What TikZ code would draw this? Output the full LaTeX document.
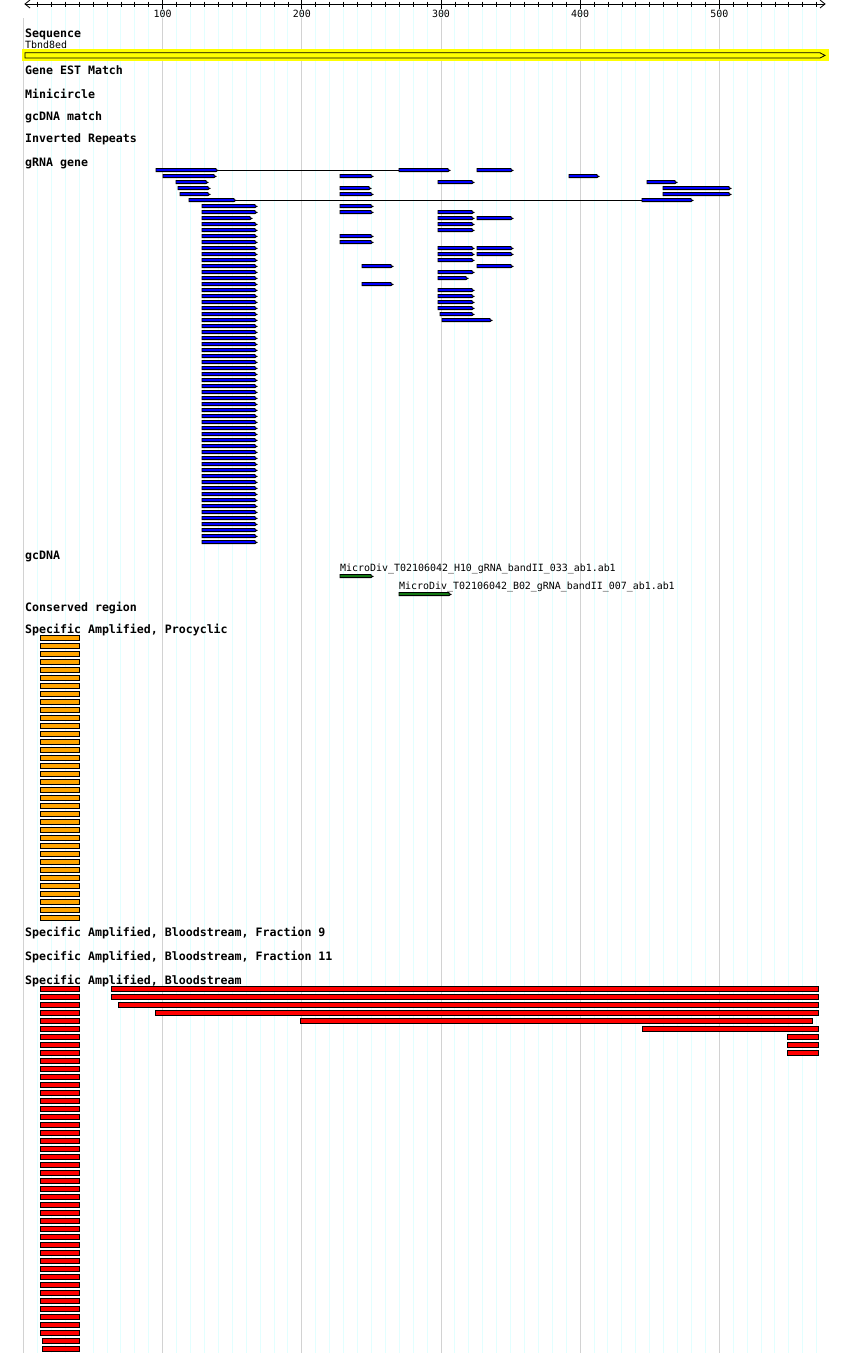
\documentclass[tikz,border=0pt]{standalone}
\usepackage{fontspec}
\setmonofont{DejaVu Sans Mono}
\usepackage{xcolor}
\usepackage{tikz}

\definecolor{gridcyan}{RGB}{226,255,255}
\definecolor{gridgray}{RGB}{210,210,210}
\definecolor{seqyellow}{RGB}{255,255,0}
\definecolor{grnablue}{RGB}{0,0,255}
\definecolor{gcgreen}{RGB}{20,120,20}
\definecolor{procorange}{RGB}{255,165,0}
\definecolor{bloodred}{RGB}{255,0,0}

% arrow bar: [style]{from}{to}{row centre}
\newcommand{\fwdbar}[4][grna]{\filldraw[#1] (#2,#4-1.6) -- (#3-2,#4-1.6) -- (#3-2,#4-0.4) -- (#3,#4+0.3) -- (#3-2,#4+1.6) -- (#2,#4+1.6) -- cycle;}
% plain bar: [style]{from}{to}{top}
\newcommand{\hitbar}[4][proc]{\filldraw[#1] (#2,#4+0.4) rectangle (#3,#4+5);}

\begin{document}
\begin{tikzpicture}[x=1pt,y=-1pt,
 tracklbl/.style={font=\ttfamily\bfseries\fontsize{11.6}{12}\selectfont,anchor=base west,inner sep=0pt},
 smalllbl/.style={font=\ttfamily\fontsize{9.95}{11}\selectfont,inner sep=0pt},
 gridminor/.style={draw=gridcyan,line width=1pt},
 gridmajor/.style={draw=gridgray,line width=1pt},
 grna/.style={draw=black,fill=grnablue,line width=0.8pt},
 gcd/.style={draw=black,fill=gcgreen,line width=0.8pt},
 proc/.style={draw=black,fill=procorange,line width=1pt},
 blood/.style={draw=black,fill=bloodred,line width=1pt}]
\useasboundingbox[fill=white] (0,0) rectangle (850,1353);

% grid
\foreach \k in {1,...,57} {\draw[gridminor] (23.55+13.915*\k,8) -- (23.55+13.915*\k,1353);}
\foreach \h in {0,...,5} {\draw[gridmajor] (23.55+139.15*\h,18) -- (23.55+139.15*\h,1353);}

% ruler
\draw[line width=0.8pt] (30,0) -- (25,4) -- (30,8);
\draw[line width=0.8pt] (820,0) -- (825,4) -- (820,8);
\draw[line width=0.8pt] (25,4) -- (825,4);
\foreach \k in {1,...,57} {\draw[line width=0.8pt] (23.55+13.915*\k,1.5) -- (23.55+13.915*\k,7);}
\foreach \h in {1,...,5} {
 \draw[line width=0.8pt] (23.55+139.15*\h,0) -- (23.55+139.15*\h,9);
 \node[smalllbl,anchor=base] (tick\h) at (23.55+139.15*\h,17.5) {\h00};
}

% sequence
\node[tracklbl] (seqlbl) at (25,37) {Sequence};
\node[smalllbl,anchor=base west] (seqname) at (25,48) {Tbnd8ed};
\fill[seqyellow] (22,49) rectangle (829,61);
\draw[line width=0.8pt] (25,52.8) -- (820,52.8) -- (825,55.4) -- (820,58) -- (25,58) -- cycle;

\node[tracklbl] (estlbl) at (25,74) {Gene EST Match};
\node[tracklbl] (minilbl) at (25,98) {Minicircle};
\node[tracklbl] (matchlbl) at (25,120) {gcDNA match};
\node[tracklbl] (irlbl) at (25,142) {Inverted Repeats};
\node[tracklbl] (grnalbl) at (25,166) {gRNA gene};

% gRNA gene
\draw[line width=0.8pt] (218,170) -- (399,170);
\draw[line width=0.8pt] (236,200) -- (642,200);
\foreach \r/\a/\b in {170/156/218,176/163/216,182/176/208,188/178/210,194/180/210,200/189/236,
 206/202/257,212/202/257,218/202/252}
 {\fwdbar{\a}{\b}{\r}}
\foreach \r in {224,230,...,542} {\fwdbar{202}{257}{\r}}
\foreach \r/\b in {176/373,188/371,194/373,206/373,212/373,236/373,242/373} {\fwdbar{340}{\b}{\r}}
\foreach \r in {266,284} {\fwdbar{362}{393}{\r}}
\foreach \r/\a/\b in {182/438/474,212/438/474,218/438/474,224/438/474,230/438/474,248/438/474,
 254/438/474,260/438/474,272/438/474,278/438/468,290/438/474,296/438/474,302/438/474,
 308/438/474,314/440/474,320/442/492}
 {\fwdbar{\a}{\b}{\r}}
\foreach \r in {170,218,248,254,266} {\fwdbar{477}{513}{\r}}
\foreach \r/\a/\b in {170/399/450,176/569/599,182/647/677,188/663/731,194/663/731,200/642/693}
 {\fwdbar{\a}{\b}{\r}}

% gcDNA
\node[tracklbl] (gcdnalbl) at (25,559) {gcDNA};
\node[smalllbl,anchor=base west] (hten) at (340,571) {MicroDiv\_T02106042\_H10\_gRNA\_bandII\_033\_ab1.ab1};
\fwdbar[gcd]{340}{373}{576}
\node[smalllbl,anchor=base west] (btwo) at (399,589) {MicroDiv\_T02106042\_B02\_gRNA\_bandII\_007\_ab1.ab1};
\fwdbar[gcd]{399}{451}{594}

\node[tracklbl] (conslbl) at (25,611) {Conserved region};
\node[tracklbl] (proclbl) at (25,633) {Specific Amplified, Procyclic};

% procyclic
\foreach \i in {0,...,35} {\hitbar{40}{79}{635+8*\i}}

\node[tracklbl] (frnine) at (25,936) {Specific Amplified, Bloodstream, Fraction 9};
\node[tracklbl] (frelev) at (25,960) {Specific Amplified, Bloodstream, Fraction 11};
\node[tracklbl] (bloodlbl) at (25,984) {Specific Amplified, Bloodstream};

% bloodstream
\foreach \i in {0,...,43} {\hitbar[blood]{40}{79}{986+8*\i}}
\foreach \i in {44,45} {\hitbar[blood]{42.5}{79}{986+8*\i}}
\foreach \i/\a/\b in {0/111/818,1/111/818,2/118/818,3/155/818,4/300/812,5/642/818,
 6/787/818,7/787/818,8/787/818}
 {\hitbar[blood]{\a}{\b}{986+8*\i}}
\end{tikzpicture}
\end{document}
